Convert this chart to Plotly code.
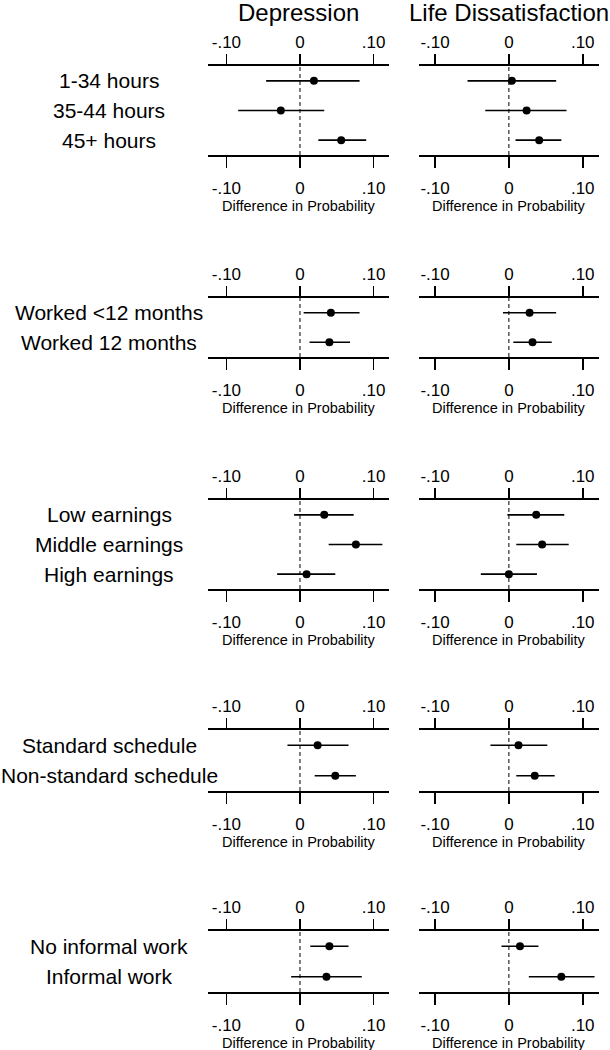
import plotly.graph_objects as go

# ---------------- data ----------------
columns = ["Depression", "Life Dissatisfaction"]
tick_vals = [-0.10, 0.0, 0.10]
tick_text = ["-.10", "0", ".10"]
x_title = "Difference in Probability"

hours_labels = ["1-34 hours", "35-44 hours", "45+ hours"]
hours_dep_est = [0.019, -0.026, 0.056]
hours_dep_lo = [-0.046, -0.084, 0.025]
hours_dep_hi = [0.081, 0.033, 0.090]
hours_life_est = [0.004, 0.024, 0.041]
hours_life_lo = [-0.056, -0.032, 0.009]
hours_life_hi = [0.064, 0.078, 0.071]

months_labels = ["Worked <12 months", "Worked 12 months"]
months_dep_est = [0.042, 0.040]
months_dep_lo = [0.005, 0.013]
months_dep_hi = [0.081, 0.068]
months_life_est = [0.028, 0.032]
months_life_lo = [-0.008, 0.006]
months_life_hi = [0.064, 0.058]

earn_labels = ["Low earnings", "Middle earnings", "High earnings"]
earn_dep_est = [0.033, 0.076, 0.009]
earn_dep_lo = [-0.008, 0.039, -0.031]
earn_dep_hi = [0.073, 0.112, 0.048]
earn_life_est = [0.037, 0.045, 0.000]
earn_life_lo = [-0.002, 0.010, -0.038]
earn_life_hi = [0.075, 0.081, 0.038]

sched_labels = ["Standard schedule", "Non-standard schedule"]
sched_dep_est = [0.024, 0.048]
sched_dep_lo = [-0.017, 0.020]
sched_dep_hi = [0.066, 0.076]
sched_life_est = [0.013, 0.035]
sched_life_lo = [-0.025, 0.010]
sched_life_hi = [0.052, 0.062]

inf_labels = ["No informal work", "Informal work"]
inf_dep_est = [0.040, 0.036]
inf_dep_lo = [0.014, -0.012]
inf_dep_hi = [0.066, 0.084]
inf_life_est = [0.015, 0.071]
inf_life_lo = [-0.010, 0.027]
inf_life_hi = [0.040, 0.116]

panels = [
    (hours_labels, (hours_dep_est, hours_dep_lo, hours_dep_hi), (hours_life_est, hours_life_lo, hours_life_hi)),
    (months_labels, (months_dep_est, months_dep_lo, months_dep_hi), (months_life_est, months_life_lo, months_life_hi)),
    (earn_labels, (earn_dep_est, earn_dep_lo, earn_dep_hi), (earn_life_est, earn_life_lo, earn_life_hi)),
    (sched_labels, (sched_dep_est, sched_dep_lo, sched_dep_hi), (sched_life_est, sched_life_lo, sched_life_hi)),
    (inf_labels, (inf_dep_est, inf_dep_lo, inf_dep_hi), (inf_life_est, inf_life_lo, inf_life_hi)),
]

# ---------------- layout geometry (pixels) ----------------
W, H = 610, 1050
FONT = "Arial, 'Liberation Sans', sans-serif"
col_px = [(208, 389), (419, 599)]
col_ranges = [[-0.125, 0.121], [-0.1217, 0.122]]
panel_px = [(66, 155), (298, 357), (500, 589), (730, 791), (931, 992)]
label_x_px = 109


def px_x(p):
    return p / W


def px_y(p):
    return 1 - p / H


def ref(letter, k):
    return letter if k == 1 else f"{letter}{k}"


def key(letter, k):
    return f"{letter}axis" if k == 1 else f"{letter}axis{k}"


fig = go.Figure()
layout = dict(
    width=W, height=H,
    margin=dict(l=0, r=0, t=0, b=0),
    paper_bgcolor="white", plot_bgcolor="white",
    showlegend=False,
    font=dict(family=FONT, color="black"),
)
annotations = []
shapes = []

axis_common = dict(
    tickmode="array", tickvals=tick_vals, ticktext=tick_text,
    showgrid=False, zeroline=False, showline=True,
    linecolor="black", linewidth=1.6,
    ticks="outside", tickwidth=1.6, tickcolor="black",
    tickfont=dict(family=FONT, size=17, color="black"),
    fixedrange=True,
)

for i, (labels, dep, life) in enumerate(panels):
    top, bot = panel_px[i]
    n = len(labels)
    rows = list(range(1, n + 1))
    for c, series in enumerate([dep, life]):
        idx = i * 2 + c + 1
        est, lo, hi = series
        xa = ref("x", idx)
        ya = ref("y", idx)
        fig.add_trace(go.Scatter(
            x=est, y=rows, mode="markers",
            marker=dict(color="black", size=8),
            error_x=dict(type="data", symmetric=False,
                         array=[h - e for h, e in zip(hi, est)],
                         arrayminus=[e - l for e, l in zip(est, lo)],
                         width=0, thickness=1.6, color="black"),
            xaxis=xa, yaxis=ya, hoverinfo="skip", cliponaxis=False,
        ))
        # dummy trace for the top axis
        top_idx = idx + 10
        fig.add_trace(go.Scatter(x=[None], y=[None], xaxis=ref("x", top_idx), yaxis=ya,
                                 showlegend=False, hoverinfo="skip"))
        dom_x = [px_x(col_px[c][0]), px_x(col_px[c][1])]
        layout[key("x", idx)] = dict(axis_common, domain=dom_x, anchor=ya,
                                     range=col_ranges[c], side="bottom",
                                     ticklen=11, ticklabelstandoff=6)
        layout[key("x", top_idx)] = dict(axis_common, overlaying=xa, anchor=ya,
                                         range=col_ranges[c], side="top",
                                         ticklen=10)
        layout[key("y", idx)] = dict(domain=[px_y(bot), px_y(top)], anchor=xa,
                                     range=[n + 0.5, 0.5], visible=False,
                                     showgrid=False, zeroline=False, fixedrange=True)
        shapes.append(dict(type="line", xref=xa, yref=f"{ya} domain",
                           x0=0, x1=0, y0=0, y1=1, layer="below",
                           line=dict(color="black", width=1, dash="4px,3px")))
        annotations.append(dict(
            text=x_title, xref="paper", yref="paper",
            x=(dom_x[0] + dom_x[1]) / 2, y=px_y(bot + 51),
            xanchor="center", yanchor="middle", showarrow=False,
            font=dict(family=FONT, size=14.5, color="black")))
        if c == 0:
            for r, lab in zip(rows, labels):
                annotations.append(dict(
                    text=lab, xref="paper", yref=ya, x=px_x(label_x_px), y=r,
                    xanchor="center", yanchor="middle", showarrow=False,
                    font=dict(family=FONT, size=21, color="black")))

for c, name in enumerate(columns):
    annotations.append(dict(
        text=name, xref="paper", yref="paper",
        x=px_x((col_px[c][0] + col_px[c][1]) / 2), y=px_y(12),
        xanchor="center", yanchor="middle", showarrow=False,
        font=dict(family=FONT, size=24, color="black")))

layout["annotations"] = annotations
layout["shapes"] = shapes
fig.update_layout(**layout)
fig.write_html(
    "out.html",
    config={"displayModeBar": False, "staticPlot": True},
    post_script="document.body.style.margin='0';document.body.style.overflow='hidden';",
)
